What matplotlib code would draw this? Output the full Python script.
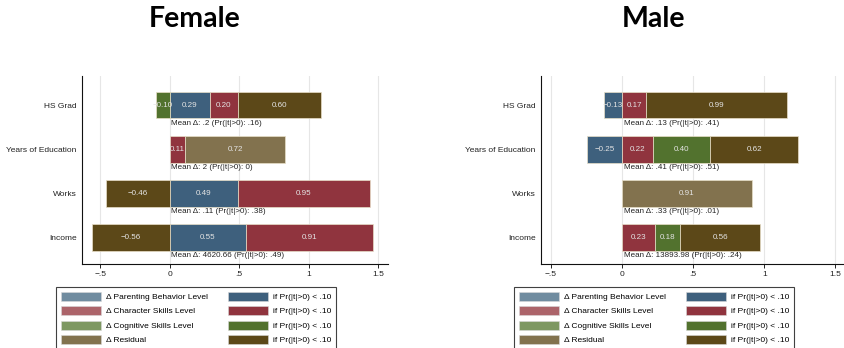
import matplotlib
matplotlib.use('Agg')
import matplotlib.pyplot as plt
from matplotlib.patches import Patch
import numpy as np

# data
categories = ['HS Grad', 'Years of Education', 'Works', 'Income']
components = ['Parenting', 'Character', 'Cognitive', 'Residual']
legend_labels = ['\u0394 Parenting Behavior Level', '\u0394 Character Skills Level',
                 '\u0394 Cognitive Skills Level', '\u0394 Residual']
sig_label = 'if Pr(|t|>0) < .10'

# female: values per component (nan = not shown), significance flags
fem_parenting = [0.29, np.nan, 0.49, 0.55]
fem_character = [0.20, 0.11, 0.95, 0.91]
fem_cognitive = [-0.10, np.nan, np.nan, np.nan]
fem_residual = [0.60, 0.72, -0.46, -0.56]
fem_sig_parenting = [1, 0, 1, 1]
fem_sig_character = [1, 1, 1, 1]
fem_sig_cognitive = [1, 0, 0, 0]
fem_sig_residual = [1, 0, 1, 1]
fem_mean = ['.2', '2', '.11', '4620.66']
fem_pval = ['.16', '0', '.38', '.49']

# male
male_parenting = [-0.13, -0.25, np.nan, np.nan]
male_character = [0.17, 0.22, np.nan, 0.23]
male_cognitive = [np.nan, 0.40, np.nan, 0.18]
male_residual = [0.99, 0.62, 0.91, 0.56]
male_sig_parenting = [1, 1, 0, 0]
male_sig_character = [1, 1, 0, 1]
male_sig_cognitive = [0, 1, 0, 1]
male_sig_residual = [1, 1, 0, 1]
male_mean = ['.13', '.41', '.33', '13893.98']
male_pval = ['.41', '.51', '.01', '.24']

x_ticks = [-0.5, 0, 0.5, 1, 1.5]
x_ticklabels = ['\u2212.5', '0', '.5', '1', '1.5']

light_colors = ['#708ca0', '#ac646a', '#7d9862', '#82724e']
dark_colors = ['#3e607d', '#90343e', '#52722e', '#5c4818']

plt.rcParams['font.family'] = ['Liberation Sans', 'DejaVu Sans']
fs = 6.0

fig = plt.figure(figsize=(8.44, 3.48), dpi=100)
W, H = 844.0, 348.0


def draw_panel(rect, vals, sigs, means, pvals, xlim, title, title_x, leg_x):
    ax = fig.add_axes(rect)
    ypos = np.arange(len(categories))
    for i in range(len(categories)):
        pos_left = 0.0
        neg_left = 0.0
        for k in range(len(components)):
            v = vals[k][i]
            if np.isnan(v):
                continue
            col = dark_colors[k] if sigs[k][i] else light_colors[k]
            if v >= 0:
                left = pos_left
                pos_left += v
            else:
                left = neg_left + v
                neg_left += v
            ax.barh(ypos[i], abs(v), left=left, height=0.61,
                    color=col, edgecolor='#e8dfc8', linewidth=0.5, zorder=2)
            txt = ('%.2f' % v).replace('-', '\u2212')
            ax.text(left + abs(v) / 2, ypos[i], txt, ha='center', va='center',
                    fontsize=fs - 0.2, color='#e4e4e4', zorder=3)
        ax.text(0.012, ypos[i] + 0.41, 'Mean \u0394: %s (Pr(|t|>0): %s)' % (means[i], pvals[i]),
                ha='left', va='center', fontsize=fs - 0.2, color='#222222', zorder=3)
    ax.set_yticks(ypos)
    ax.set_yticklabels(categories, fontsize=fs, color='#222222')
    ax.set_ylim(len(categories) - 1 + 0.61, -0.66)
    ax.set_xlim(xlim)
    ax.set_xticks(x_ticks)
    ax.set_xticklabels(x_ticklabels, fontsize=fs, color='#222222')
    ax.tick_params(axis='y', length=0, pad=4)
    ax.tick_params(axis='x', length=3, width=0.6, pad=2, direction='out')
    ax.grid(axis='x', color='#e6e6e6', linewidth=0.8, zorder=0)
    ax.set_axisbelow(True)
    for s in ['top', 'right']:
        ax.spines[s].set_visible(False)
    for s in ['left', 'bottom']:
        ax.spines[s].set_linewidth(0.8)
        ax.spines[s].set_color('#111111')

    fig.text(title_x / W, 1 - 19 / H, title, ha='center', va='center',
             fontsize=20.5, fontweight='bold', family='Lato')

    handles = [Patch(facecolor=c, edgecolor='#d8d8d8', linewidth=0.4) for c in light_colors]
    handles += [Patch(facecolor=c, edgecolor='#d8d8d8', linewidth=0.4) for c in dark_colors]
    labels = legend_labels + [sig_label] * 4
    leg = fig.legend(handles, labels, ncol=2, loc='upper left',
                     bbox_to_anchor=(leg_x / W, 1 - 287 / H), fontsize=fs,
                     frameon=True, fancybox=False, edgecolor='#111111',
                     handlelength=4.8, handleheight=1.3, handletextpad=0.6,
                     columnspacing=2.4, labelspacing=0.62, borderpad=0.55,
                     borderaxespad=0)
    leg.get_frame().set_linewidth(0.8)
    return ax


fem_vals = [fem_parenting, fem_character, fem_cognitive, fem_residual]
fem_sigs = [fem_sig_parenting, fem_sig_character, fem_sig_cognitive, fem_sig_residual]
male_vals = [male_parenting, male_character, male_cognitive, male_residual]
male_sigs = [male_sig_parenting, male_sig_character, male_sig_cognitive, male_sig_residual]

draw_panel([82 / W, 84 / H, (388 - 82) / W, (264 - 76) / H], fem_vals, fem_sigs,
           fem_mean, fem_pval, (-0.63, 1.57), 'Female', 195, 56)
draw_panel([541 / W, 84 / H, (844 - 541) / W, (264 - 76) / H], male_vals, male_sigs,
           male_mean, male_pval, (-0.57, 1.56), 'Male', 653, 514)

plt.savefig('out.png', dpi=100)
